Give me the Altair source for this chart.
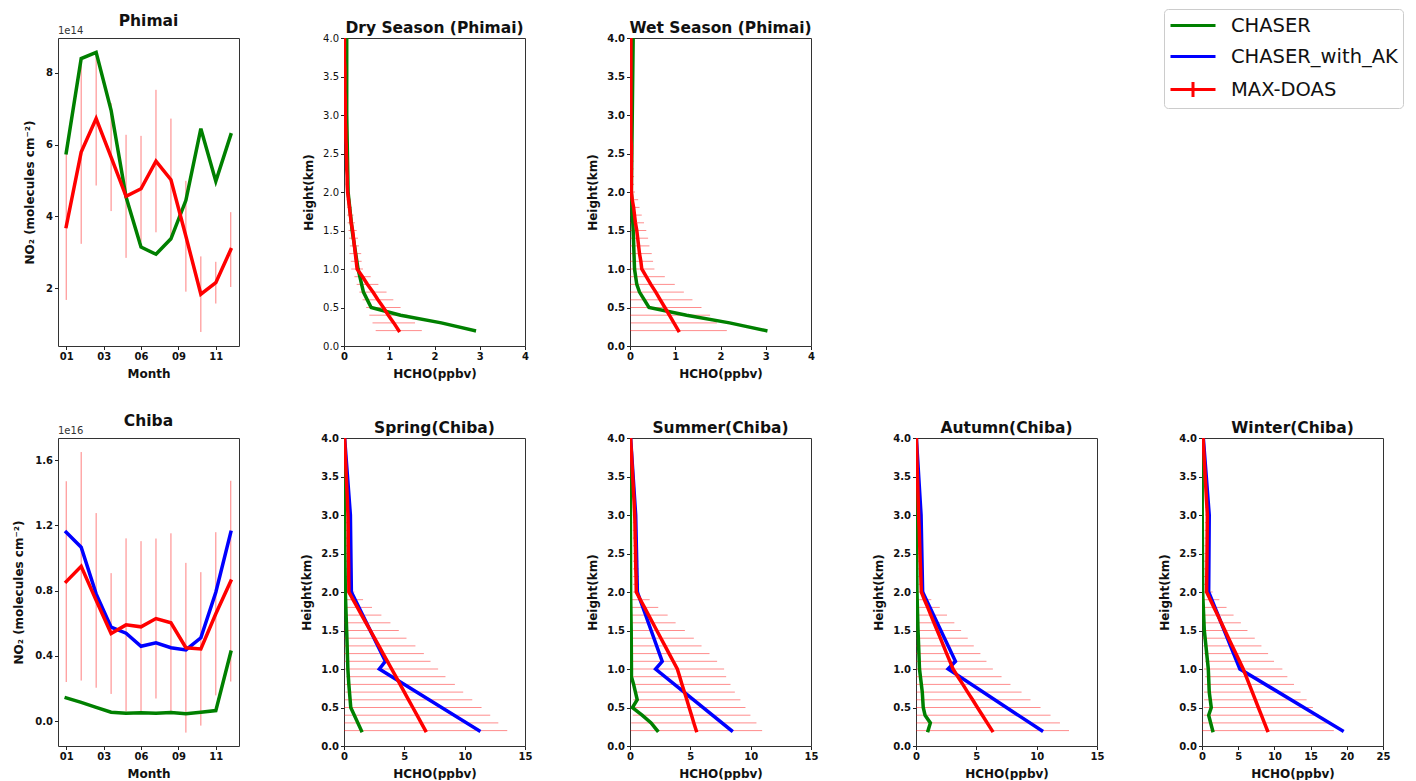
import altair as alt
import pandas as pd

FONT = "DejaVu Sans"
INK = "#111111"

SERIES = ["CHASER", "CHASER_with_AK", "MAX-DOAS"]
SERIES_COLORS = ["#008000", "#0000ff", "#ff0000"]
LEGEND_SHAPES = ["M-1,0H3.5", "M-1,0H3.5", "M-1,0H3.5M1.25,-0.75V0.75"]

# ---------------- monthly columns (x = month index) ----------------
MONTH_POS = [0, 1, 2, 3, 4, 5, 6, 7, 8, 9, 10, 11]
MONTH_TICKS = [0, 2.5, 5, 7.5, 10]
MONTH_LABELS = ["01", "03", "06", "09", "11"]

# Phimai, units of 1e14 molecules cm-2
PHIMAI_CHASER = [5.77, 8.39, 8.56, 6.95, 4.54, 3.15, 2.95, 3.38, 4.45, 6.44, 4.98, 6.27]
PHIMAI_MAXDOAS = [3.72, 5.79, 6.72, 5.65, 4.56, 4.77, 5.54, 5.02, 3.45, 1.84, 2.16, 3.08]
PHIMAI_MAXDOAS_ERR = [2.04, 2.55, 1.86, 1.50, 1.71, 1.47, 1.98, 1.70, 1.54, 1.05, 0.58, 1.04]

# Chiba, units of 1e16 molecules cm-2
CHIBA_CHASER = [0.143, 0.115, 0.085, 0.055, 0.049, 0.051, 0.049, 0.053, 0.045, 0.055, 0.065, 0.423]
CHIBA_CHASER_AK = [1.157, 1.066, 0.78, 0.576, 0.539, 0.459, 0.480, 0.450, 0.437, 0.511, 0.790, 1.157]
CHIBA_MAXDOAS = [0.855, 0.949, 0.74, 0.537, 0.590, 0.578, 0.629, 0.603, 0.450, 0.443, 0.658, 0.858]
CHIBA_MAXDOAS_ERR = [0.615, 0.70, 0.535, 0.37, 0.53, 0.525, 0.49, 0.548, 0.52, 0.47, 0.50, 0.615]

# ---------------- vertical profiles ----------------
HEIGHT_TICKS = [0.0, 0.5, 1.0, 1.5, 2.0, 2.5, 3.0, 3.5, 4.0]
HEIGHTS = [0.2, 0.3, 0.4, 0.5, 0.6, 0.7, 0.8, 0.9, 1.0,
           1.1, 1.2, 1.3, 1.4, 1.5, 1.6, 1.7, 1.8, 1.9, 2.0,
           2.1, 2.2, 2.3, 2.4, 2.5, 2.6, 2.7, 2.8, 2.9, 3.0,
           3.1, 3.2, 3.3, 3.4, 3.5, 3.6, 3.7, 3.8, 3.9, 4.0]

DRY_MAXDOAS = [1.21, 1.10, 0.98, 0.87, 0.75, 0.64, 0.52, 0.41, 0.29,
               0.27, 0.25, 0.23, 0.21, 0.19, 0.16, 0.14, 0.12, 0.10, 0.08,
               0.07, 0.07, 0.06, 0.06, 0.05, 0.05, 0.04, 0.04, 0.03, 0.03,
               0.03, 0.03, 0.02, 0.02, 0.02, 0.02, 0.01, 0.01, 0.01, 0.01]
DRY_MAXDOAS_ERR = [0.51, 0.47, 0.42, 0.38, 0.34, 0.30, 0.24, 0.18, 0.13,
                   0.12, 0.13, 0.10, 0.10, 0.09, 0.08, 0.07, 0.05, 0.04, 0.03,
                   0.03, 0.03, 0.02, 0.02, 0.02, 0.02, 0.01, 0.01, 0.01, 0.01,
                   0.01, 0.01, 0.01, 0.01, 0.0, 0.0, 0.0, 0.0, 0.0, 0.0]
DRY_CHASER_H = [0.2, 0.3, 0.4, 0.5, 0.7, 1.0, 1.5, 2.0, 3.0, 4.0]
DRY_CHASER = [2.88, 2.15, 1.25, 0.60, 0.43, 0.31, 0.18, 0.09, 0.06, 0.06]

WET_MAXDOAS = [1.07, 0.97, 0.87, 0.77, 0.67, 0.57, 0.46, 0.36, 0.26,
               0.24, 0.21, 0.19, 0.17, 0.15, 0.12, 0.10, 0.08, 0.05, 0.03,
               0.03, 0.03, 0.03, 0.03, 0.03, 0.03, 0.02, 0.02, 0.02, 0.02,
               0.02, 0.02, 0.02, 0.02, 0.02, 0.02, 0.02, 0.02, 0.02, 0.02]
WET_MAXDOAS_ERR = [1.07, 0.95, 0.90, 0.81, 0.71, 0.62, 0.53, 0.41, 0.28,
                   0.27, 0.27, 0.24, 0.23, 0.21, 0.19, 0.16, 0.13, 0.13, 0.08,
                   0.06, 0.06, 0.05, 0.05, 0.04, 0.03, 0.02, 0.02, 0.01, 0.01,
                   0.01, 0.01, 0.01, 0.01, 0.0, 0.0, 0.0, 0.0, 0.0, 0.0]
WET_CHASER_H = [0.2, 0.3, 0.4, 0.5, 0.7, 0.8, 1.0, 1.5, 2.0, 3.0, 4.0]
WET_CHASER = [3.00, 2.20, 1.25, 0.42, 0.21, 0.15, 0.10, 0.07, 0.03, 0.05, 0.07]

SPRING_MAXDOAS = [6.75, 6.40, 6.05, 5.70, 5.35, 5.00, 4.65, 4.30, 3.95,
                  3.60, 3.24, 2.89, 2.53, 2.18, 1.82, 1.46, 1.11, 0.75, 0.40,
                  0.40, 0.39, 0.39, 0.38, 0.37, 0.36, 0.35, 0.35, 0.34, 0.33,
                  0.30, 0.28, 0.25, 0.22, 0.19, 0.16, 0.13, 0.10, 0.08, 0.05]
SPRING_MAXDOAS_ERR = [6.78, 6.39, 6.07, 5.70, 5.28, 4.88, 4.54, 4.11, 3.85,
                      3.57, 3.38, 3.03, 2.65, 2.36, 2.03, 1.64, 1.21, 0.83, 0.46,
                      0.30, 0.30, 0.29, 0.28, 0.27, 0.26, 0.25, 0.24, 0.22, 0.20,
                      0.15, 0.12, 0.10, 0.08, 0.06, 0.05, 0.04, 0.03, 0.02, 0.01]
SPRING_CHASER_H = [0.2, 0.5, 0.8, 1.0, 1.5, 2.0, 3.0, 4.0]
SPRING_CHASER = [1.44, 0.56, 0.40, 0.32, 0.22, 0.11, 0.04, 0.02]
SPRING_AK_H = [0.2, 1.0, 1.1, 2.0, 3.0, 4.0]
SPRING_AK = [11.18, 2.93, 3.43, 0.61, 0.53, 0.05]

SUMMER_MAXDOAS = [5.49, 5.29, 5.10, 4.90, 4.71, 4.51, 4.31, 4.12, 3.92,
                  3.58, 3.24, 2.90, 2.56, 2.22, 1.88, 1.54, 1.20, 0.86, 0.52,
                  0.51, 0.50, 0.48, 0.47, 0.46, 0.45, 0.43, 0.42, 0.41, 0.39,
                  0.36, 0.33, 0.29, 0.26, 0.22, 0.19, 0.15, 0.12, 0.08, 0.05]
SUMMER_MAXDOAS_ERR = [5.46, 5.19, 4.88, 4.67, 4.44, 4.18, 4.02, 3.85, 3.88,
                      3.64, 3.35, 3.03, 2.73, 2.33, 1.90, 1.58, 1.14, 0.77, 0.25,
                      0.25, 0.24, 0.23, 0.22, 0.21, 0.20, 0.19, 0.18, 0.17, 0.16,
                      0.12, 0.10, 0.08, 0.06, 0.05, 0.04, 0.03, 0.02, 0.01, 0.01]
SUMMER_CHASER_H = [0.2, 0.3, 0.4, 0.5, 0.6, 0.7, 0.8, 0.9, 1.0, 1.5, 2.0, 3.0, 4.0]
SUMMER_CHASER = [2.26, 1.75, 1.00, 0.20, 0.60, 0.45, 0.30, 0.12, 0.12, 0.10, 0.05, 0.03, 0.02]
SUMMER_AK_H = [0.2, 1.0, 1.1, 2.0, 3.0, 4.0]
SUMMER_AK = [8.41, 2.12, 2.67, 0.61, 0.47, 0.05]

AUTUMN_MAXDOAS = [6.31, 5.90, 5.50, 5.09, 4.69, 4.28, 3.88, 3.47, 3.07,
                  2.81, 2.54, 2.28, 2.02, 1.76, 1.49, 1.23, 0.97, 0.70, 0.44,
                  0.42, 0.40, 0.38, 0.35, 0.33, 0.31, 0.29, 0.27, 0.24, 0.22,
                  0.20, 0.18, 0.16, 0.14, 0.12, 0.10, 0.08, 0.07, 0.05, 0.03]
AUTUMN_MAXDOAS_ERR = [6.37, 6.03, 5.65, 5.23, 4.80, 4.47, 3.95, 3.62, 3.30,
                      3.03, 2.80, 2.51, 2.27, 1.98, 1.69, 1.34, 1.00, 0.57, 0.28,
                      0.22, 0.21, 0.20, 0.19, 0.18, 0.17, 0.16, 0.15, 0.14, 0.13,
                      0.10, 0.08, 0.07, 0.06, 0.05, 0.04, 0.03, 0.02, 0.01, 0.01]
AUTUMN_CHASER_H = [0.2, 0.3, 0.4, 0.5, 0.7, 1.0, 1.5, 2.0, 3.0, 4.0]
AUTUMN_CHASER = [1.00, 1.19, 0.75, 0.60, 0.52, 0.29, 0.17, 0.08, 0.03, 0.02]
AUTUMN_AK_H = [0.2, 1.0, 1.1, 2.0, 3.0, 4.0]
AUTUMN_AK = [10.41, 2.66, 3.27, 0.55, 0.42, 0.03]

WINTER_MAXDOAS = [9.04, 8.62, 8.20, 7.78, 7.37, 6.95, 6.53, 6.11, 5.69,
                  5.19, 4.68, 4.18, 3.67, 3.17, 2.66, 2.16, 1.65, 1.15, 0.64,
                  0.65, 0.66, 0.67, 0.68, 0.69, 0.70, 0.71, 0.72, 0.73, 0.74,
                  0.68, 0.62, 0.56, 0.50, 0.44, 0.38, 0.32, 0.26, 0.20, 0.15]
WINTER_MAXDOAS_ERR = [9.17, 8.67, 7.95, 7.54, 7.08, 6.67, 6.18, 5.68, 5.41,
                      4.76, 4.45, 4.03, 3.62, 3.11, 2.71, 2.20, 1.74, 1.24, 0.83,
                      0.40, 0.40, 0.39, 0.38, 0.37, 0.36, 0.35, 0.34, 0.33, 0.32,
                      0.25, 0.20, 0.16, 0.12, 0.09, 0.07, 0.05, 0.03, 0.02, 0.01]
WINTER_CHASER_H = [0.2, 0.4, 0.5, 0.7, 1.0, 1.5, 2.0, 3.0, 4.0]
WINTER_CHASER = [1.47, 0.92, 1.28, 1.00, 0.87, 0.32, 0.09, 0.03, 0.02]
WINTER_AK_H = [0.2, 1.0, 1.1, 2.0, 3.0, 4.0]
WINTER_AK = [19.36, 5.23, 4.80, 0.92, 1.00, 0.18]

# ---------------- tables ----------------
ts_rows, ts_err_rows = [], []


def add_ts(panel, series, values):
    for x, v in zip(MONTH_POS, values):
        ts_rows.append({"panel": panel, "series": series, "x": x, "y": v})


def add_ts_err(panel, values, errs):
    for x, v, e in zip(MONTH_POS, values, errs):
        ts_err_rows.append({"panel": panel, "x": x, "lo": v - e, "hi": v + e})


add_ts("phimai", "CHASER", PHIMAI_CHASER)
add_ts("phimai", "MAX-DOAS", PHIMAI_MAXDOAS)
add_ts_err("phimai", PHIMAI_MAXDOAS, PHIMAI_MAXDOAS_ERR)
add_ts("chiba", "CHASER", CHIBA_CHASER)
add_ts("chiba", "CHASER_with_AK", CHIBA_CHASER_AK)
add_ts("chiba", "MAX-DOAS", CHIBA_MAXDOAS)
add_ts_err("chiba", CHIBA_MAXDOAS, CHIBA_MAXDOAS_ERR)
ts = pd.DataFrame(ts_rows)
ts_err = pd.DataFrame(ts_err_rows)

pr_rows, pr_err_rows = [], []


def add_prof(panel, series, heights, values):
    for h, v in zip(heights, values):
        pr_rows.append({"panel": panel, "series": series, "h": h, "v": v})


def add_prof_err(panel, values, errs):
    for h, v, e in zip(HEIGHTS, values, errs):
        if e > 0:
            pr_err_rows.append({"panel": panel, "h": h, "lo": v - e, "hi": v + e})


for key, ch_h, ch, ak_h, ak, md, md_err in [
    ("dry", DRY_CHASER_H, DRY_CHASER, None, None, DRY_MAXDOAS, DRY_MAXDOAS_ERR),
    ("wet", WET_CHASER_H, WET_CHASER, None, None, WET_MAXDOAS, WET_MAXDOAS_ERR),
    ("spring", SPRING_CHASER_H, SPRING_CHASER, SPRING_AK_H, SPRING_AK, SPRING_MAXDOAS, SPRING_MAXDOAS_ERR),
    ("summer", SUMMER_CHASER_H, SUMMER_CHASER, SUMMER_AK_H, SUMMER_AK, SUMMER_MAXDOAS, SUMMER_MAXDOAS_ERR),
    ("autumn", AUTUMN_CHASER_H, AUTUMN_CHASER, AUTUMN_AK_H, AUTUMN_AK, AUTUMN_MAXDOAS, AUTUMN_MAXDOAS_ERR),
    ("winter", WINTER_CHASER_H, WINTER_CHASER, WINTER_AK_H, WINTER_AK, WINTER_MAXDOAS, WINTER_MAXDOAS_ERR),
]:
    add_prof(key, "CHASER", ch_h, ch)
    if ak is not None:
        add_prof(key, "CHASER_with_AK", ak_h, ak)
    add_prof(key, "MAX-DOAS", HEIGHTS, md)
    add_prof_err(key, md, md_err)
prof = pd.DataFrame(pr_rows)
prof_err = pd.DataFrame(pr_err_rows)

# ---------------- styling helpers ----------------
W, H = 181, 308
FRAME = alt.ViewBackground(stroke="#333333", strokeWidth=1)
LEG = dict(
    title=None, orient="none", legendX=1106, legendY=-29,
    labelFont=FONT, labelFontSize=19.5, labelColor=INK, labelLimit=400,
    labelOffset=39, symbolSize=400, symbolStrokeWidth=3, symbolOpacity=1,
    rowPadding=10, padding=5, strokeColor="#cccccc", cornerRadius=4,
    fillColor="white",
)
COLOR = alt.Color("series:N", scale=alt.Scale(domain=SERIES, range=SERIES_COLORS),
                  legend=alt.Legend(**LEG))
SHAPE = alt.Shape("series:N", scale=alt.Scale(domain=SERIES, range=LEGEND_SHAPES),
                  legend=alt.Legend(**LEG))

month_expr = " : ".join(f"datum.value == {v} ? '{l}'" for v, l in zip(MONTH_TICKS, MONTH_LABELS)) + " : ''"


def time_panel(key, title, ydom, yticks, yfmt, offset_label, with_legend_shapes=False):
    xs = alt.Scale(domain=[-0.55, 11.55], nice=False, zero=False)
    ys = alt.Scale(domain=ydom, nice=False, zero=False)
    xax = alt.Axis(values=MONTH_TICKS, labelExpr=month_expr, title="Month")
    yax = alt.Axis(values=yticks, format=yfmt, title="NO\u2082 (molecules cm\u207b\u00b2)", titlePadding=9)
    edf = ts_err[ts_err.panel == key]
    layers = [
        alt.Chart(edf).mark_rule(color="#ff0000", opacity=0.5, strokeWidth=1).encode(
            x=alt.X("x:Q", scale=xs, axis=xax),
            y=alt.Y("lo:Q", scale=ys, axis=yax), y2="hi:Q")
    ]
    for s in SERIES:
        sub = ts[(ts.panel == key) & (ts.series == s)]
        if len(sub):
            layers.append(alt.Chart(sub).mark_line(strokeWidth=3.5, strokeCap="square").encode(
                x=alt.X("x:Q", scale=xs, axis=xax),
                y=alt.Y("y:Q", scale=ys, axis=yax),
                color=COLOR, order=alt.Order("x:Q")))
    layers.append(alt.Chart(pd.DataFrame({"t": [offset_label]})).mark_text(
        align="left", baseline="bottom", dy=-2, font=FONT, fontSize=10, color="#333333"
    ).encode(x=alt.value(0), y=alt.value(0), text="t:N"))
    if with_legend_shapes:
        layers.append(alt.Chart(pd.DataFrame({"series": SERIES})).mark_point(
            opacity=0, filled=False).encode(color=COLOR, shape=SHAPE))
    return alt.layer(*layers).properties(title=title, width=W, height=H, view=FRAME)


def profile_panel(key, title, xmax, xticks, ylab_weight="bold"):
    xs = alt.Scale(domain=[0, xmax], nice=False, zero=False)
    ys = alt.Scale(domain=[0, 4], nice=False, zero=False)
    xax = alt.Axis(values=xticks, format="d", title="HCHO(ppbv)")
    yax = alt.Axis(values=HEIGHT_TICKS, format=".1f", title="Height(km)", labelFontWeight=ylab_weight)
    edf = prof_err[prof_err.panel == key]
    layers = [
        alt.Chart(edf).mark_rule(color="#ff0000", opacity=0.45, strokeWidth=1, clip=True).encode(
            x=alt.X("lo:Q", scale=xs, axis=xax), x2="hi:Q",
            y=alt.Y("h:Q", scale=ys, axis=yax))
    ]
    for s in SERIES:
        sub = prof[(prof.panel == key) & (prof.series == s)]
        if len(sub):
            layers.append(alt.Chart(sub).mark_line(strokeWidth=3.5, strokeCap="square", clip=True).encode(
                x=alt.X("v:Q", scale=xs, axis=xax),
                y=alt.Y("h:Q", scale=ys, axis=yax),
                color=COLOR, order=alt.Order("h:Q")))
    return alt.layer(*layers).properties(title=title, width=W, height=H, view=FRAME)


def blank():
    return alt.Chart(pd.DataFrame({"t": [""]})).mark_text().encode(text="t:N").properties(
        width=W, height=H, view=alt.ViewBackground(stroke="transparent"))


cells = [
    time_panel("phimai", "Phimai", [0.40, 8.96], [2, 4, 6, 8], "d", "1e14", with_legend_shapes=True),
    profile_panel("dry", "Dry Season (Phimai)", 4, [0, 1, 2, 3, 4], ylab_weight="normal"),
    profile_panel("wet", "Wet Season (Phimai)", 4, [0, 1, 2, 3, 4]),
    blank(),
    blank(),
    time_panel("chiba", "Chiba", [-0.152, 1.735], [0.0, 0.4, 0.8, 1.2, 1.6], ".1f", "1e16"),
    profile_panel("spring", "Spring(Chiba)", 15, [0, 5, 10, 15]),
    profile_panel("summer", "Summer(Chiba)", 15, [0, 5, 10, 15]),
    profile_panel("autumn", "Autumn(Chiba)", 15, [0, 5, 10, 15]),
    profile_panel("winter", "Winter(Chiba)", 25, [0, 5, 10, 15, 20, 25]),
]

chart = alt.concat(
    *cells, columns=5, spacing={"row": 92, "column": 105}, bounds="flush"
).properties(
    padding={"left": 4, "top": 0, "right": 0, "bottom": 0}
).configure(
    font=FONT
).configure_view(
    stroke="transparent"
).configure_axis(
    grid=False, domain=False, tickColor="#222222", tickSize=3.5, tickWidth=1,
    labelFont=FONT, labelFontSize=10, labelFontWeight="bold", labelColor=INK, labelPadding=2,
    labelFlush=False, labelOverlap=False,
    titleFont=FONT, titleFontSize=12, titleFontWeight="bold", titleColor=INK,
).configure_axisX(
    titlePadding=7
).configure_axisY(
    titlePadding=7
).configure_title(
    font=FONT, fontSize=15.5, fontWeight="bold", color=INK, offset=-3, anchor="middle", frame="group"
)

chart.save("out.html", embed_options={"renderer": "svg", "actions": False})
